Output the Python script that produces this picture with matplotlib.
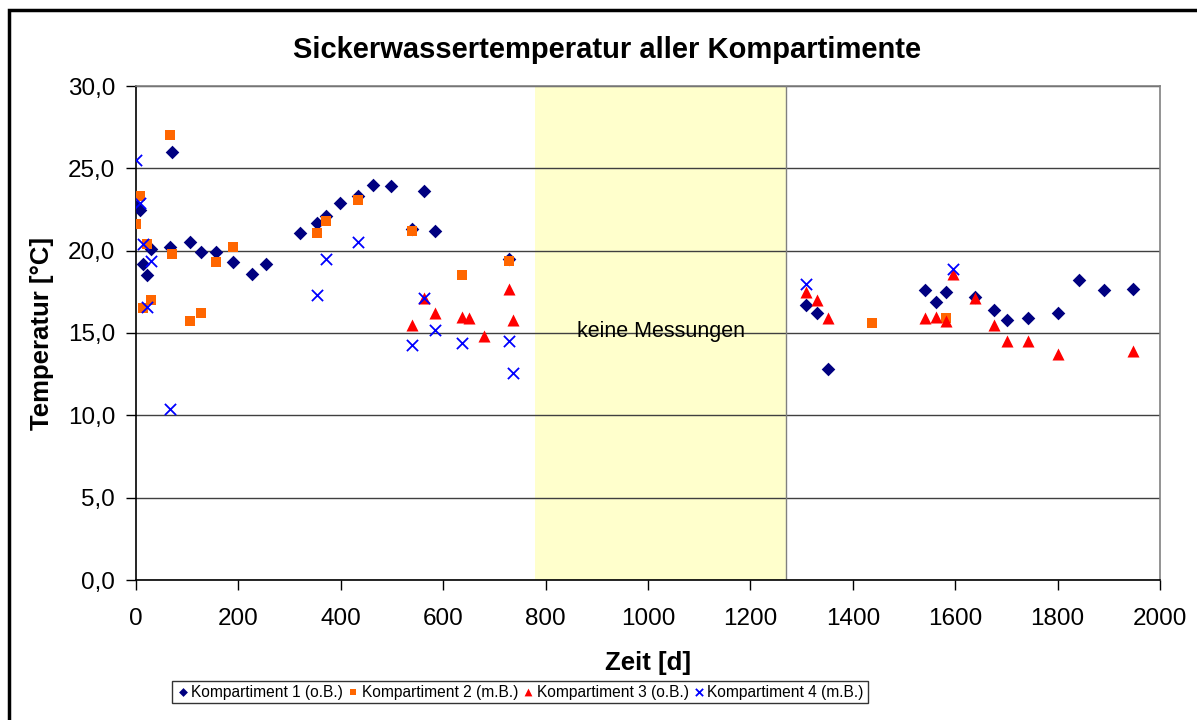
import matplotlib
matplotlib.use("Agg")
import matplotlib.pyplot as plt
from matplotlib.patches import Rectangle
from matplotlib.ticker import FuncFormatter

plt.rcParams['font.family'] = ['Liberation Sans', 'DejaVu Sans']

# Kompartiment 1 (o.B.)
k1_x = [0, 8, 14, 22, 29, 66, 71, 105, 127, 156, 190, 226, 253, 320, 354, 372, 398,
        434, 462, 498, 540, 562, 584, 729, 1309, 1331, 1352, 1541, 1563, 1583, 1639,
        1676, 1702, 1742, 1801, 1842, 1891, 1947]
k1_y = [22.7, 22.5, 19.2, 18.5, 20.1, 20.2, 26.0, 20.5, 19.9, 19.9, 19.3, 18.6, 19.2,
        21.1, 21.7, 22.1, 22.9, 23.3, 24.0, 23.9, 21.3, 23.6, 21.2, 19.5, 16.7, 16.2,
        12.8, 17.6, 16.9, 17.5, 17.2, 16.4, 15.8, 15.9, 16.2, 18.2, 17.6, 17.7]

# Kompartiment 2 (m.B.)
k2_x = [0, 8, 14, 22, 29, 66, 70, 105, 127, 156, 190, 354, 372, 434, 540, 637, 729,
        1437, 1583]
k2_y = [21.6, 23.3, 16.5, 20.4, 17.0, 27.0, 19.8, 15.7, 16.2, 19.3, 20.2, 21.1, 21.8,
        23.1, 21.2, 18.5, 19.4, 15.6, 15.9]

# Kompartiment 3 (o.B.)
k3_x = [540, 562, 584, 637, 651, 680, 729, 737, 1309, 1331, 1352, 1541, 1563, 1583,
        1596, 1639, 1676, 1702, 1742, 1801, 1947]
k3_y = [15.5, 17.1, 16.2, 16.0, 15.9, 14.8, 17.7, 15.8, 17.5, 17.0, 15.9, 15.9, 16.0,
        15.7, 18.6, 17.1, 15.5, 14.5, 14.5, 13.7, 13.9]

# Kompartiment 4 (m.B.)
k4_x = [0, 8, 14, 22, 29, 66, 354, 372, 434, 540, 562, 584, 637, 729, 737, 1309, 1596]
k4_y = [25.5, 22.9, 20.4, 16.6, 19.4, 10.4, 17.3, 19.5, 20.5, 14.3, 17.1, 15.2, 14.4,
        14.5, 12.6, 18.0, 18.9]

gap_start, gap_end = 780, 1270

fig = plt.figure(figsize=(11.97, 7.2), dpi=100)
ax = fig.add_axes([136 / 1197, 140 / 720, 1024 / 1197, 494 / 720])

# outer chart frame (runs past the right/bottom image edge)
fig.patches.append(Rectangle((9 / 1197, -0.1), 1.2, (710 / 720) + 0.1,
                             transform=fig.transFigure, fill=False,
                             edgecolor='black', linewidth=2.5, zorder=0))

ax.axvspan(gap_start, gap_end, color='#FFFFCC', zorder=0.5, lw=0)
ax.axvline(gap_end, color='#808080', lw=1, zorder=0.6)
ax.text((gap_start + gap_end) / 2, 15.1, 'keine Messungen', ha='center', va='center',
        fontsize=15.5)

ax.scatter(k1_x, k1_y, marker='D', s=48, color='#000080', lw=0, zorder=3,
           label='Kompartiment 1 (o.B.)')
ax.scatter(k2_x, k2_y, marker='s', s=58, color='#FF6600', lw=0, zorder=4,
           label='Kompartiment 2 (m.B.)')
ax.scatter(k3_x, k3_y, marker='^', s=75, color='#FF0000', lw=0, zorder=5,
           label='Kompartiment 3 (o.B.)')
ax.scatter(k4_x, k4_y, marker='x', s=65, color='#0000FF', lw=1.3, zorder=6,
           label='Kompartiment 4 (m.B.)')

ax.set_xlim(0, 2000)
ax.set_ylim(0, 30)
ax.set_xticks(range(0, 2001, 200))
ax.set_yticks([0, 5, 10, 15, 20, 25, 30])
ax.yaxis.set_major_formatter(FuncFormatter(lambda v, p: f'{v:.1f}'.replace('.', ',')))
ax.tick_params(direction='out', length=7, width=1, labelsize=17.5)
ax.tick_params(axis='x', pad=13)
ax.tick_params(axis='y', pad=8)
ax.yaxis.grid(True, color='#404040', lw=1)
ax.set_axisbelow(True)
for sp in ax.spines.values():
    sp.set_linewidth(1.2)
    sp.set_color('black')
ax.spines['top'].set_color('#808080')
ax.spines['right'].set_color('#808080')

ax.set_xlabel('Zeit [d]', fontsize=18.5, fontweight='bold', labelpad=15)
ax.set_ylabel('Temperatur [°C]', fontsize=18.5, fontweight='bold', labelpad=10)
fig.text(607 / 1197, 1 - 50 / 720, 'Sickerwassertemperatur aller Kompartimente',
         ha='center', va='center', fontsize=21, fontweight='bold')

leg = fig.legend(loc='center', bbox_to_anchor=(520 / 1197, 1 - 692 / 720), ncol=4,
                 fontsize=11.2, frameon=True, fancybox=False, edgecolor='black',
                 handletextpad=0.15, columnspacing=0.25, handlelength=0.8,
                 borderpad=0.25, markerscale=0.65)
leg.get_frame().set_linewidth(1)

fig.savefig('out.png', dpi=100)
